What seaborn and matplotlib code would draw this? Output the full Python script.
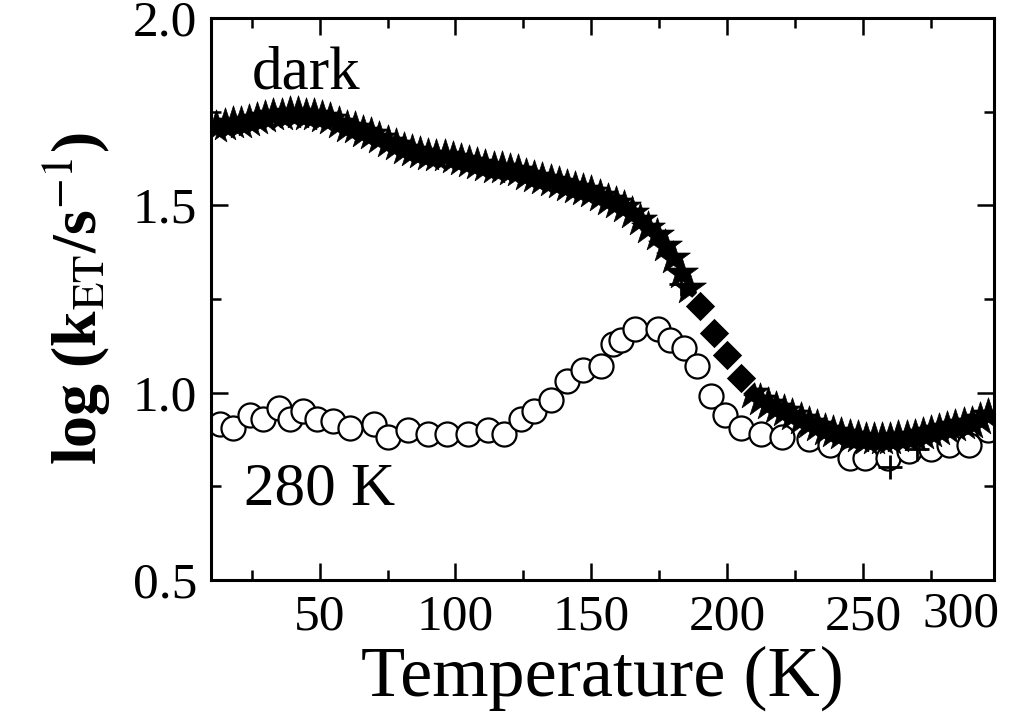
"""log(k_ET) vs temperature, dark and 280 K illumination."""

import numpy as np
import pandas as pd
import seaborn as sns
import matplotlib.pyplot as plt
from matplotlib.ticker import MultipleLocator

# dark series (filled stars)
dark_T = [12, 15, 18, 21, 24, 27, 30, 33, 36, 39, 42, 45, 48, 51, 54, 57, 60,
          63, 66, 69, 72, 75, 78, 81, 84, 87, 90, 93, 96, 99, 102, 105, 108,
          111, 114, 117, 120, 123, 126, 129, 132, 135, 138, 141, 144, 147, 150,
          153, 156, 159, 162, 165, 168, 171, 174, 177, 180, 183, 186,
          209, 212, 215, 218, 221, 224, 227, 230, 233, 236, 239, 242, 245, 248,
          251, 254, 257, 260, 263, 266, 269, 272, 275, 278, 281, 284, 287, 290,
          293, 296]
dark_k = [1.71, 1.715, 1.72, 1.72, 1.725, 1.73, 1.735, 1.74, 1.74, 1.745, 1.745,
          1.74, 1.74, 1.735, 1.73, 1.72, 1.71, 1.705, 1.695, 1.69, 1.68, 1.67,
          1.66, 1.65, 1.645, 1.64, 1.635, 1.63, 1.63, 1.625, 1.62, 1.615, 1.61,
          1.605, 1.60, 1.60, 1.595, 1.59, 1.58, 1.575, 1.57, 1.565, 1.56, 1.55,
          1.545, 1.54, 1.535, 1.525, 1.515, 1.505, 1.495, 1.48, 1.46, 1.44,
          1.42, 1.39, 1.36, 1.32, 1.28,
          1.00, 0.98, 0.97, 0.96, 0.95, 0.94, 0.93, 0.92, 0.91, 0.90, 0.895,
          0.89, 0.885, 0.88, 0.875, 0.875, 0.875, 0.875, 0.88, 0.88, 0.885,
          0.89, 0.895, 0.90, 0.905, 0.91, 0.915, 0.92, 0.93, 0.94]

# dark series, the few diamond points on the steep drop
diam_T = [190, 195, 200, 205]
diam_k = [1.23, 1.16, 1.10, 1.04]

# plus markers near the minimum
plus_T = [183, 260, 270]
plus_k = [1.29, 0.80, 0.85]

# 280 K series (open circles)
lit_T = [13.5, 18, 24.5, 29, 35, 39, 44, 49, 55, 61, 70, 75, 82.5, 90, 97,
         104.5, 112, 118, 124, 129, 135, 141, 147, 153.5, 158, 161, 166,
         174.5, 179, 184, 189, 194, 199, 205, 212.6, 220, 230, 238, 245,
         250.6, 259, 267, 275, 281.5, 289, 296]
lit_k = [0.915, 0.905, 0.94, 0.93, 0.96, 0.93, 0.95, 0.93, 0.925, 0.905, 0.915,
         0.88, 0.90, 0.89, 0.89, 0.89, 0.90, 0.89, 0.93, 0.95, 0.98, 1.03, 1.06,
         1.07, 1.13, 1.14, 1.17, 1.17, 1.14, 1.12, 1.07, 0.99, 0.94, 0.905,
         0.89, 0.88, 0.875, 0.86, 0.825, 0.825, 0.825, 0.845, 0.85, 0.86, 0.86,
         0.90]

sns.set_style("ticks")
plt.rcParams["font.family"] = ["Liberation Serif", "DejaVu Serif"]
plt.rcParams["mathtext.fontset"] = "stix"
plt.rcParams["text.color"] = "black"
plt.rcParams["axes.labelcolor"] = "black"
plt.rcParams["xtick.color"] = "black"
plt.rcParams["ytick.color"] = "black"
plt.rcParams["axes.edgecolor"] = "black"

fig = plt.figure(figsize=(10.19, 7.15), dpi=100)
ax = fig.add_axes([0.207, 0.189, 0.768, 0.786])

dark = pd.DataFrame({"T": dark_T, "k": dark_k})
lit = pd.DataFrame({"T": lit_T, "k": lit_k})

sns.scatterplot(data=lit, x="T", y="k", ax=ax, marker="o", s=300,
                facecolor="white", edgecolor="black", linewidth=1.6, zorder=2)
sns.scatterplot(data=dark, x="T", y="k", ax=ax, marker="*", s=650,
                color="black", edgecolor="black", linewidth=0.5, zorder=3)
sns.scatterplot(x=diam_T, y=diam_k, ax=ax, marker="D", s=260,
                color="black", edgecolor="white", linewidth=1.2, zorder=4)
sns.scatterplot(x=plus_T, y=plus_k, ax=ax, marker="+", s=300,
                color="black", linewidth=2, zorder=4)

ax.set_xlim(10, 298)
ax.set_ylim(0.5, 2.0)
ax.xaxis.set_major_locator(MultipleLocator(50))
ax.xaxis.set_minor_locator(MultipleLocator(25))
ax.yaxis.set_major_locator(MultipleLocator(0.5))
ax.yaxis.set_minor_locator(MultipleLocator(0.25))
ax.set_yticks([0.5, 1.0, 1.5, 2.0])
ax.set_yticklabels(["0.5", "1.0", "1.5", "2.0"])
ax.set_xticks([50, 100, 150, 200, 250])

ax.tick_params(which="both", direction="in", top=True, right=True,
               width=1.8, labelsize=37, pad=10)
ax.tick_params(which="major", length=12)
ax.tick_params(which="minor", length=7)
for sp in ax.spines.values():
    sp.set_linewidth(2.2)
    sp.set_visible(True)

# the 300 label sits just inside the right edge in the original
ax.text(286, -0.02, "300", transform=ax.get_xaxis_transform(),
        ha="center", va="top", fontsize=37)

ax.set_xlabel("Temperature (K)", fontsize=52, labelpad=4)
ax.set_ylabel(r"log (k$_{\mathrm{ET}}$/s$^{-1}$)", fontsize=46,
              fontweight="bold", labelpad=14)

ax.text(45, 1.85, "dark", ha="center", va="center", fontsize=44)
ax.text(50, 0.74, "280 K", ha="center", va="center", fontsize=44)

fig.savefig("out.png", dpi=100)
